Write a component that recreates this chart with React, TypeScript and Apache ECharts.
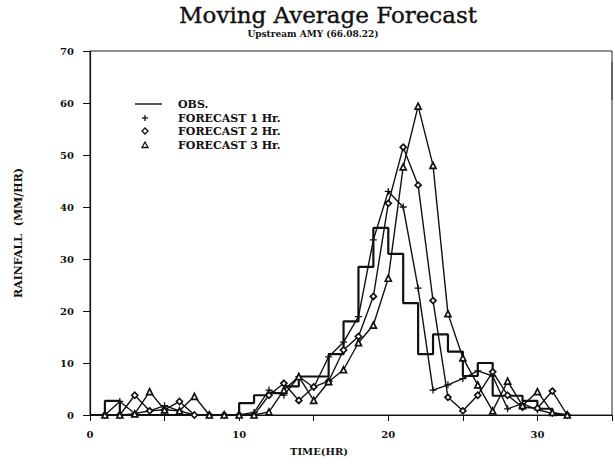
import React, { useEffect, useRef } from "react";
import * as echarts from "echarts";

// Observed rainfall, one value per hour starting at hour 0 (held over each hour)
const obsRain = [
  0, 2.7, 0, 0, 0, 0, 0, 0, 0, 0, 2.3, 3.8, 4.2, 5.5, 7.4, 7.4, 11.7, 18, 28.5,
  36, 31, 21.5, 11.7, 15.5, 12.2, 7.5, 10, 3.7, 3.7, 2.7, 1.2, 0, 0,
];
// Forecasts, one value per hour starting at hour 1
const forecast1Hr = [
  0, 2.6, 0.3, 0.8, 1.8, 0.8, 0, 0, 0, 0, 0.5, 4.8, 3.8, 7.4, 5.3, 11.2, 14,
  18.9, 33.7, 43, 40, 24.4, 4.8, 5.8, 7, 8.5, 7.5, 1.2, 2.2, 1, 0.3, 0,
];
const forecast2Hr = [
  0, 0, 3.8, 0.8, 1, 2.6, 0, 0, 0, 0, 0, 3.8, 6.1, 2.8, 5.4, 6.5, 12.5, 15.1,
  22.8, 40.7, 51.5, 44.2, 22, 3.4, 0.8, 3.8, 8.3, 3.8, 1.5, 1.3, 4.6, 0,
];
const forecast3Hr = [
  0, 0, 0.2, 4.5, 1, 0.8, 3.6, 0, 0, 0, 0, 0.6, 4.8, 7.4, 2.8, 6.4, 8.7, 13.9,
  17.3, 26.3, 47.7, 59.4, 48, 19.5, 11, 5.8, 0.8, 6.5, 1.8, 4.5, 0.5, 0,
];
const xTickLabels = ["0", "10", "20", "30"];
const yTickLabels = ["0", "10", "20", "30", "40", "50", "60", "70"];
const legendNames = ["OBS.", "FORECAST 1 Hr.", "FORECAST 2 Hr.", "FORECAST 3 Hr."];

const PLUS =
  "path://M-0.18,-1H0.18V-0.18H1V0.18H0.18V1H-0.18V0.18H-1V-0.18H-0.18Z";
const labelFont = "'DejaVu Serif', serif";

export default function App() {
  const ref = useRef<HTMLDivElement>(null);

  useEffect(() => {
    if (!ref.current) return;
    const chart = echarts.init(ref.current, undefined, { renderer: "svg" });

    const fromHour = (start: number, arr: number[]) =>
      arr.map((v, i) => [i + start, v]);

    const lineSeries = (
      name: string,
      data: number[][],
      symbol: string,
      size: number,
      filled: boolean
    ) => ({
      name,
      type: "line",
      data,
      symbol,
      symbolSize: size,
      showSymbol: true,
      lineStyle: { color: "#111", width: 1.4 },
      itemStyle: {
        color: filled ? "#111" : "#fff",
        borderColor: "#111",
        borderWidth: filled ? 0 : 1.7,
      },
      z: 3,
    });

    const lx = 145;
    const rows = [104, 118, 131, 145];

    chart.setOption({
      animation: false,
      backgroundColor: "#fff",
      grid: {
        left: 90,
        top: 51,
        width: 528,
        height: 364,
        show: true,
        borderColor: "#222",
        borderWidth: 1,
        backgroundColor: "transparent",
      },
      xAxis: {
        type: "value",
        min: 0,
        max: 35,
        interval: 5,
        axisLine: { lineStyle: { color: "#111", width: 1.2 } },
        axisTick: { show: true, length: 6, lineStyle: { color: "#111" } },
        splitLine: { show: false },
        axisLabel: {
          color: "#111",
          fontFamily: labelFont,
          fontWeight: "bold",
          fontSize: 10,
          margin: 14,
          formatter: (v: number) =>
            xTickLabels.includes(String(v)) ? String(v) : "",
        },
      },
      yAxis: {
        type: "value",
        min: 0,
        max: 70,
        interval: 10,
        name: "RAINFALL  (MM/HR)",
        nameLocation: "middle",
        nameRotate: 90,
        nameGap: 66,
        nameTextStyle: {
          color: "#111",
          fontFamily: labelFont,
          fontWeight: "bold",
          fontSize: 11,
        },
        axisLine: { show: true, lineStyle: { color: "#111", width: 1.2 } },
        axisTick: { show: true, length: 7, lineStyle: { color: "#111" } },
        splitLine: { show: false },
        axisLabel: {
          color: "#111",
          fontFamily: labelFont,
          fontWeight: "bold",
          fontSize: 10,
          margin: 16,
          formatter: (v: number) =>
            yTickLabels.includes(String(v)) ? String(v) : "",
        },
      },
      series: [
        {
          name: legendNames[0],
          type: "line",
          step: "end",
          data: fromHour(0, obsRain),
          symbol: "none",
          lineStyle: { color: "#111", width: 2.2 },
          z: 2,
        },
        lineSeries(legendNames[1], fromHour(1, forecast1Hr), PLUS, 7, true),
        lineSeries(legendNames[2], fromHour(1, forecast2Hr), "diamond", 6, false),
        lineSeries(legendNames[3], fromHour(1, forecast3Hr), "triangle", 6, false),
      ],
      graphic: [
        {
          type: "text",
          x: 328,
          y: 15,
          style: {
            text: "Moving Average Forecast",
            font: "normal 23px 'DejaVu Serif', serif",
            fill: "#111",
            stroke: "#111",
            lineWidth: 0.4,
            textAlign: "center",
            textVerticalAlign: "middle",
          },
        },
        {
          type: "text",
          x: 313,
          y: 34,
          style: {
            text: "Upstream AMY (66.08.22)",
            font: "bold 9px 'DejaVu Serif', serif",
            fill: "#111",
            textAlign: "center",
            textVerticalAlign: "middle",
          },
        },
        {
          type: "text",
          x: 319,
          y: 451,
          style: {
            text: "TIME(HR)",
            font: "bold 10px 'DejaVu Serif', serif",
            fill: "#111",
            textAlign: "center",
            textVerticalAlign: "middle",
          },
        },
        // right edge of the frame
        {
          type: "line",
          shape: { x1: 612, y1: 62, x2: 612, y2: 100 },
          style: { stroke: "#333", lineWidth: 1 },
        },
        // legend keys
        {
          type: "line",
          shape: { x1: 135, y1: rows[0], x2: 162, y2: rows[0] },
          style: { stroke: "#111", lineWidth: 1.4 },
        },
        {
          type: "line",
          shape: { x1: lx - 3, y1: rows[1], x2: lx + 3, y2: rows[1] },
          style: { stroke: "#111", lineWidth: 1.3 },
        },
        {
          type: "line",
          shape: { x1: lx, y1: rows[1] - 3, x2: lx, y2: rows[1] + 3 },
          style: { stroke: "#111", lineWidth: 1.3 },
        },
        {
          type: "polygon",
          shape: {
            points: [
              [lx, rows[2] - 3],
              [lx + 3, rows[2]],
              [lx, rows[2] + 3],
              [lx - 3, rows[2]],
            ],
          },
          style: { fill: "#fff", stroke: "#111", lineWidth: 1.3 },
        },
        {
          type: "polygon",
          shape: {
            points: [
              [lx, rows[3] - 3],
              [lx + 3, rows[3] + 2.5],
              [lx - 3, rows[3] + 2.5],
            ],
          },
          style: { fill: "#fff", stroke: "#111", lineWidth: 1.3 },
        },
        ...legendNames.map((name, i) => ({
          type: "text",
          x: 178,
          y: rows[i],
          style: {
            text: name,
            font: "bold 11px 'DejaVu Serif', serif",
            fill: "#111",
            textVerticalAlign: "middle",
          },
        })),
      ],
    });

    return () => chart.dispose();
  }, []);

  return (
    <div
      ref={ref}
      style={{ position: "fixed", left: 0, top: 0, width: 615, height: 467 }}
    />
  );
}
